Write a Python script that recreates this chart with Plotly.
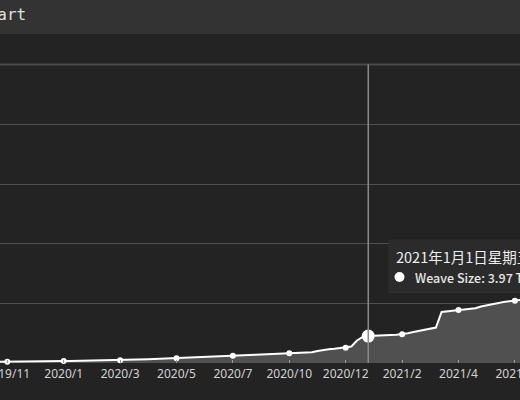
import plotly.graph_objects as go

# ---------------- data ----------------
dates = [
    "2019-11-08", "2019-11-14", "2019-11-20", "2019-11-26", "2019-12-02", "2019-12-08",
    "2019-12-14", "2019-12-20", "2019-12-26", "2020-01-01", "2020-01-07", "2020-01-13",
    "2020-01-19", "2020-01-25", "2020-01-31", "2020-02-06", "2020-02-12", "2020-02-18",
    "2020-02-24", "2020-03-01", "2020-03-07", "2020-03-13", "2020-03-19", "2020-03-25",
    "2020-03-31", "2020-04-06", "2020-04-12", "2020-04-18", "2020-04-24", "2020-04-30",
    "2020-05-06", "2020-05-12", "2020-05-18", "2020-05-24", "2020-05-30", "2020-06-05",
    "2020-06-11", "2020-06-17", "2020-06-23", "2020-06-29", "2020-07-05", "2020-07-11",
    "2020-07-17", "2020-07-26", "2020-08-04", "2020-08-13", "2020-08-22", "2020-08-31",
    "2020-09-09", "2020-09-18", "2020-09-27", "2020-10-06", "2020-10-15", "2020-10-21",
    "2020-10-27", "2020-11-02", "2020-11-08", "2020-11-14", "2020-11-20", "2020-11-26",
    "2020-12-02", "2020-12-08", "2020-12-14", "2020-12-18", "2020-12-23", "2020-12-27",
    "2021-01-01", "2021-01-07", "2021-01-13", "2021-01-19", "2021-01-25", "2021-01-31",
    "2021-02-06", "2021-02-12", "2021-02-18", "2021-02-24", "2021-03-02", "2021-03-08",
    "2021-03-14", "2021-03-20", "2021-03-26", "2021-04-01", "2021-04-07", "2021-04-13",
    "2021-04-19", "2021-04-25", "2021-05-01", "2021-05-07", "2021-05-13", "2021-05-19",
    "2021-05-25", "2021-05-31", "2021-06-06", "2021-06-12",
]

weave_size_tb = [
    0.16, 0.18, 0.19, 0.20, 0.21, 0.22, 0.23, 0.24, 0.25, 0.26, 0.28, 0.29,
    0.30, 0.31, 0.32, 0.33, 0.34, 0.35, 0.36, 0.37, 0.38, 0.39, 0.40, 0.42,
    0.44, 0.47, 0.51, 0.55, 0.58, 0.61, 0.64, 0.67, 0.71, 0.75, 0.78, 0.82,
    0.86, 0.89, 0.93, 0.97, 1.00, 1.04, 1.08, 1.12, 1.15, 1.19, 1.22, 1.26,
    1.29, 1.33, 1.36, 1.40, 1.43, 1.47, 1.50, 1.54, 1.58, 1.77, 1.95, 2.04,
    2.11, 2.19, 2.25, 2.44, 3.32, 3.84, 3.97, 3.99, 4.04, 4.09, 4.13, 4.18,
    4.24, 4.40, 4.58, 4.74, 4.92, 5.08, 5.24, 7.53, 7.62, 7.72, 7.83, 7.90,
    7.99, 8.09, 8.34, 8.53, 8.70, 8.86, 9.01, 9.11, 9.20, 9.30,
]

tick_dates = ["2019-11-20", "2020-01-19", "2020-03-19", "2020-05-18", "2020-07-17",
              "2020-10-15", "2020-12-14", "2021-02-06", "2021-04-07", "2021-06-06"]
tick_labels = ["2019/11", "2020/1", "2020/3", "2020/5", "2020/7",
               "2020/10", "2020/12", "2021/2", "2021/4", "2021/6"]

hover_date = "2021-01-01"
hover_title = "2021年1月1日星期五"
series_name = "Weave Size"
header_text = "Chart"

# ---------------- figure ----------------
W, H = 520, 400
TOP, BOTTOM = 65, 363
PH = BOTTOM - TOP


def py(y_px):
    """pixel row -> paper y"""
    return (BOTTOM - y_px) / PH


def px(x_px):
    return x_px / W


lookup = dict(zip(dates, weave_size_tb))
hover_val = lookup[hover_date]
hover_idx = dates.index(hover_date)

fig = go.Figure()
fig.add_trace(go.Scatter(
    x=dates, y=weave_size_tb, mode="lines",
    line=dict(color="#ffffff", width=2),
    fill="tozeroy", fillcolor="#505050",
    hoverinfo="skip", showlegend=False, cliponaxis=True,
))
fig.add_trace(go.Scatter(
    x=tick_dates, y=[lookup[d] for d in tick_dates], mode="markers",
    marker=dict(color="#ffffff", size=6, line=dict(width=0)),
    hoverinfo="skip", showlegend=False, cliponaxis=False,
))
fig.add_trace(go.Scatter(
    x=[hover_date], y=[hover_val], mode="markers",
    marker=dict(color="#ffffff", size=13, line=dict(width=0)),
    hoverinfo="skip", showlegend=False,
))

step = 56.4 / 10  # px per category
first_tick_idx = dates.index(tick_dates[0])
x0 = first_tick_idx - 7.3 / step
x1 = first_tick_idx + (W - 7.3) / step

fig.update_xaxes(
    type="category", range=[x0, x1], automargin=False,
    tickmode="array", tickvals=tick_dates, ticktext=tick_labels,
    showgrid=False, showline=False, zeroline=False,
    ticks="inside", ticklen=3, tickcolor="#9a9a9a", tickwidth=1,
    ticklabelstandoff=2,
    tickfont=dict(family="Noto Sans", size=12, color="#d2d2d2"),
)
fig.update_yaxes(
    range=[0, 44], dtick=8.8, tick0=0, showticklabels=False, automargin=False,
    showgrid=True, gridcolor="#4f4f4f", gridwidth=1, zeroline=False,
)

shapes = [
    # header bar
    dict(type="rect", xref="paper", yref="paper", x0=-0.05, x1=1.05,
         y0=py(34), y1=py(-5), fillcolor="#333333", line=dict(width=0), layer="below"),
    # top border line
    dict(type="line", xref="paper", yref="paper", x0=0, x1=1, y0=py(64.5), y1=py(64.5),
         line=dict(color="#4a4a4a", width=2)),
    # crosshair
    dict(type="line", xref="x", yref="paper", x0=hover_idx, x1=hover_idx, y0=0, y1=py(64.5),
         line=dict(color="#8a8a8a", width=1.5)),
    # tooltip box
    dict(type="rect", xref="paper", yref="paper", x0=px(389), x1=px(540),
         y0=py(292.5), y1=py(240), fillcolor="rgba(44,44,44,0.96)",
         line=dict(color="#2f2f2f", width=1)),
    # tooltip marker dot
    dict(type="circle", xref="paper", yref="paper", x0=px(394.5), x1=px(404.5),
         y0=py(282), y1=py(272), fillcolor="#ffffff", line=dict(width=0)),
]

annotations = [
    dict(text=header_text, xref="paper", yref="paper", x=px(28), y=py(15),
         xanchor="right", yanchor="middle", showarrow=False,
         font=dict(family="DejaVu Sans Mono", size=16, color="#e0e0e0")),
    dict(text=hover_title, xref="paper", yref="paper", x=px(394), y=py(256),
         xanchor="left", yanchor="middle", showarrow=False,
         font=dict(family="Noto Sans CJK SC", size=14.5, color="#eeeeee")),
    dict(text=f"{series_name}: {hover_val:.2f} TB", xref="paper", yref="paper",
         x=px(413), y=py(277.5), xanchor="left", yanchor="middle", showarrow=False,
         font=dict(family="Noto Sans CJK SC", size=12.5, color="#e6e6e6", weight=500)),
]

fig.update_layout(
    width=W, height=H,
    margin=dict(l=0, r=0, t=TOP, b=H - BOTTOM, pad=0, autoexpand=False),
    paper_bgcolor="#232323", plot_bgcolor="#232323",
    shapes=shapes, annotations=annotations,
    hovermode=False, showlegend=False,
)

fig.write_html(
    "out.html",
    config={"displayModeBar": False},
    post_script="document.body.style.margin='0';document.body.style.overflow='hidden';",
)
